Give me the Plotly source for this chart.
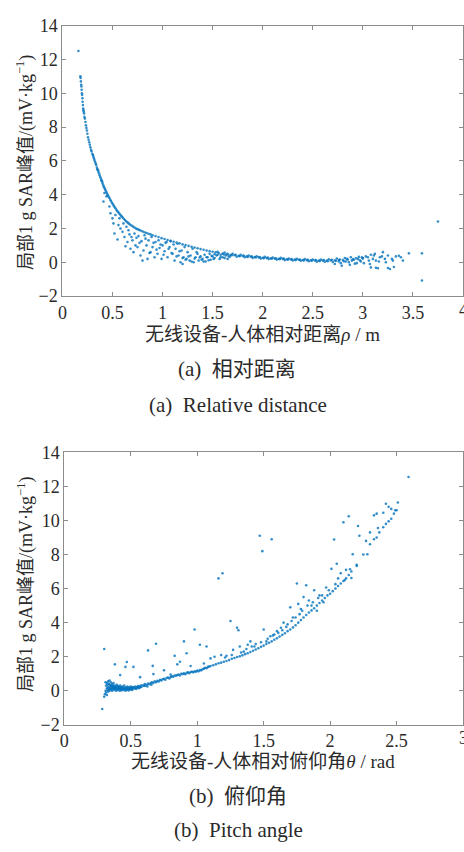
import plotly.graph_objects as go

# ---------------- data: (a) relative distance ----------------
rho_curve = [0.16,0.18,0.182,0.185,0.188,0.19,0.192,0.195,0.197,0.2,0.202,0.205,0.208,0.21,0.213,0.217,0.22,0.225,0.23,0.235,
             0.24,0.245,0.25,0.256,0.262,0.268,0.274,0.28,0.286,0.292,0.3,0.305,0.31,0.315,0.32,0.326,0.332,0.338,0.345,0.35,
             0.355,0.36,0.366,0.372,0.378,0.385,0.39,0.395,0.4,0.406,0.412,0.418,0.425,0.432,0.44,0.447,0.455,0.462,0.47,0.478,
             0.486,0.495,0.503,0.512,0.52,0.53,0.54,0.55,0.56,0.57,0.58,0.59,0.6,0.612,0.625,0.637,0.65,0.662,0.675,0.69,
             0.705,0.72,0.735,0.75,0.765,0.78,0.8,0.82,0.84,0.86,0.88,0.9,0.93,0.96,0.99,1.02,1.05,1.08,1.11,1.14,
             1.17,1.2,1.23,1.26,1.29,1.32,1.35,1.38,1.41,1.44,1.47,1.5,1.53,1.56,1.6,1.64,1.68,1.72,1.76,1.8,
             1.84,1.88,1.92,1.96,2.0,2.04,2.08,2.12,2.16,2.2,2.24,2.28,2.32,2.36,2.4,2.44,2.48,2.52,2.56,2.6,
             2.64,2.68,2.72,2.76,2.8,2.85,2.9,2.95,3.0]
sar_curve_a = [12.5,11.0,10.9,10.7,10.5,10.4,10.2,10.0,9.9,9.7,9.5,9.3,9.1,9.0,8.9,8.8,8.6,8.5,8.3,8.1,
               7.95,7.8,7.6,7.4,7.25,7.1,6.95,6.8,6.65,6.55,6.4,6.35,6.25,6.15,6.05,5.95,5.85,5.75,5.6,5.5,
               5.45,5.35,5.25,5.15,5.05,4.95,4.85,4.8,4.7,4.6,4.5,4.42,4.33,4.25,4.15,4.05,3.97,3.88,3.8,3.7,
               3.62,3.52,3.45,3.36,3.28,3.2,3.1,3.02,2.95,2.87,2.8,2.73,2.66,2.58,2.5,2.43,2.36,2.3,2.24,2.18,
               2.12,2.06,2.0,1.96,1.92,1.88,1.83,1.78,1.73,1.69,1.65,1.6,1.55,1.49,1.43,1.38,1.32,1.27,1.22,1.17,
               1.12,1.06,1.02,0.97,0.92,0.88,0.83,0.78,0.74,0.7,0.66,0.62,0.59,0.55,0.52,0.48,0.45,0.42,0.39,0.37,
               0.35,0.33,0.31,0.29,0.27,0.25,0.24,0.22,0.21,0.2,0.18,0.17,0.16,0.15,0.14,0.13,0.12,0.11,0.1,0.1,
               0.1,0.11,0.12,0.13,0.14,0.16,0.18,0.2,0.23]

rho_band = [1.52,1.55,1.58,1.62,1.66,1.7,1.74,1.78,1.82,1.86,1.9,1.94,1.98,2.02,2.06,2.1,2.14,2.18,2.22,2.26,
            2.3,2.34,2.38,2.42,2.46,2.5,2.54,2.58,2.62,2.66,2.7,2.74,2.78,2.82,2.86,2.88,2.92,2.96,2.98,
            1.61,1.65,1.69,1.73,1.77,1.81,1.85,1.89,1.93,1.97,2.01,2.05,2.09,2.13,2.17,2.21,2.25,2.29,2.33,2.37,
            2.41,2.45,2.49,2.53,2.57,2.61,2.65,2.69,2.73,2.77,2.81,2.84,2.89,2.93,2.97,
            2.72,2.76,2.79,2.83,2.87,2.91,2.94,2.99]
sar_band_a = [0.48,0.62,0.44,0.58,0.38,0.5,0.33,0.44,0.3,0.4,0.26,0.36,0.22,0.32,0.19,0.28,0.16,0.26,0.13,0.22,
              0.11,0.2,0.09,0.19,0.06,0.17,0.04,0.16,0.03,0.18,0.02,0.22,-0.05,0.25,0.0,0.3,-0.08,0.32,0.05,
              0.47,0.5,0.41,0.45,0.36,0.4,0.32,0.35,0.28,0.31,0.24,0.28,0.21,0.24,0.18,0.22,0.15,0.19,0.13,0.17,
              0.11,0.15,0.09,0.13,0.07,0.13,0.06,0.15,0.08,0.17,0.06,0.2,0.1,0.24,0.12,
              -0.1,0.05,-0.2,0.05,-0.15,0.15,-0.05,0.3]

rho_cloud = [0.41,0.42,0.44,0.47,0.48,0.5,0.51,0.52,0.53,0.55,0.56,0.57,0.58,0.6,0.61,0.62,0.63,0.64,0.65,0.66,
             0.67,0.68,0.69,0.7,0.71,0.72,0.73,0.74,0.75,0.76,0.77,0.78,0.79,0.8,0.81,0.82,0.83,0.84,0.85,0.86,
             0.87,0.88,0.89,0.9,0.91,0.92,0.93,0.94,0.95,0.96,0.97,0.98,0.99,1.0,1.01,1.02,1.03,1.04,1.05,1.06,
             1.07,1.08,1.09,1.1,1.11,1.12,1.13,1.14,1.15,1.16,1.17,1.18,1.19,1.2,1.2,1.21,1.22,1.23,1.24,1.25,
             1.26,1.27,1.28,1.29,1.3,1.31,1.32,1.33,1.34,1.35,1.36,1.37,1.38,1.39,1.4,1.41,1.42,1.43,1.44,1.45,
             1.46,1.47,1.48,1.49,1.5,1.51,1.52,1.54,1.55,1.57,1.58,1.6,1.62,1.63,1.65,1.67]
sar_cloud_a = [3.6,4.1,3.9,3.3,2.9,2.6,2.3,1.7,2.8,1.35,2.2,2.6,2.0,1.8,2.3,1.5,0.95,2.1,1.2,1.9,
               1.65,0.8,1.5,1.3,0.6,1.7,1.0,1.45,0.9,1.55,1.15,0.4,1.25,0.1,0.7,1.6,1.4,1.0,0.2,1.3,
               0.55,0.6,1.5,0.9,1.15,0.3,1.2,0.75,0.5,1.3,0.85,1.05,0.2,1.0,0.45,0.65,1.15,1.2,0.3,0.8,
               0.9,1.25,0.55,0.5,1.05,0.1,0.8,0.35,1.1,0.4,0.65,0.0,0.7,-0.1,0.25,0.3,0.9,0.15,0.2,0.6,
               0.35,0.1,0.4,0.05,0.8,0.0,0.22,0.3,0.6,0.5,0.1,0.28,0.35,0.15,0.2,0.05,0.45,0.05,0.3,0.3,
               0.12,0.5,0.15,0.38,0.35,0.2,0.25,0.4,0.45,0.2,0.3,0.3,0.25,0.4,0.2,0.32]

rho_tail = [3.0,3.01,3.03,3.05,3.06,3.07,3.08,3.08,3.1,3.11,3.12,3.13,3.13,3.15,3.16,3.17,3.19,3.2,3.22,3.23,
            3.25,3.25,3.27,3.29,3.3,3.31,3.33,3.36,3.38,3.4,3.46,3.59,3.59,3.75]
sar_tail_a = [0.25,-0.05,0.35,0.3,0.1,-0.1,0.45,-0.3,0.2,0.4,0.5,0.1,-0.32,-0.35,0.05,0.3,0.35,0.6,0.2,0.0,
              0.4,-0.34,-0.4,0.2,0.1,-0.28,0.35,0.39,0.3,0.1,0.53,0.53,-1.08,2.41]

# ---------------- data: (b) pitch angle ----------------
theta_cluster = [0.285,0.30,0.30,0.305,0.31,0.31,0.315,0.315,0.32,0.32,0.32,0.325,0.325,0.33,0.33,0.33,0.335,0.335,0.34,0.34,
                 0.34,0.345,0.345,0.35,0.35,0.35,0.355,0.355,0.36,0.36,0.36,0.365,0.365,0.37,0.37,0.37,0.375,0.375,0.38,0.38,
                 0.385,0.385,0.39,0.39,0.395,0.395,0.4,0.4,0.405,0.405,0.41,0.41,0.415,0.415,0.42,0.42,0.425,0.425,0.43,0.43,
                 0.435,0.44,0.44,0.445,0.45,0.45,0.455,0.46,0.46,0.465,0.47,0.47,0.475,0.48,0.48,0.485,0.49,0.49,0.495,0.5,
                 0.5,0.505,0.51,0.51,0.515,0.52,0.525,0.53,0.535,0.54,0.545,0.55,0.555,0.56,0.565,0.57,0.575,0.58,0.59,0.6]
sar_cluster_b = [-1.07,2.45,-0.35,-0.2,0.0,0.5,-0.1,0.3,0.15,0.45,-0.25,0.05,0.35,0.2,0.55,-0.05,0.1,0.4,0.25,0.0,
                 0.6,0.15,0.35,0.05,0.3,0.5,0.2,0.1,0.25,0.0,0.4,0.15,0.3,0.1,0.2,0.45,0.05,0.25,0.15,0.3,
                 0.1,0.2,0.0,0.25,0.12,0.35,0.2,0.05,0.15,0.28,0.1,0.22,0.0,0.18,0.12,0.3,0.08,0.2,0.15,0.02,
                 0.25,0.1,0.18,0.05,0.15,0.3,0.08,0.2,0.0,0.12,0.18,0.05,0.25,0.1,0.15,0.02,0.2,0.12,0.08,0.15,
                 0.25,0.1,0.18,0.05,0.22,0.12,0.2,0.15,0.25,0.1,0.2,0.18,0.28,0.15,0.25,0.2,0.3,0.22,0.32,0.28]

theta_curve = [0.605,0.61,0.62,0.625,0.63,0.64,0.65,0.655,0.66,0.67,0.68,0.69,0.7,0.71,0.72,0.73,0.74,0.75,0.76,0.77,
               0.78,0.79,0.8,0.81,0.82,0.83,0.84,0.85,0.86,0.87,0.88,0.89,0.9,0.91,0.92,0.93,0.94,0.95,0.96,0.97,
               0.98,0.99,1.0,1.01,1.02,1.03,1.04,1.05,1.06,1.07,1.08,1.09,1.1,1.12,1.14,1.16,1.18,1.2,1.22,1.24,
               1.26,1.28,1.3,1.32,1.34,1.36,1.38,1.4,1.42,1.44,1.46,1.48,1.5,1.52,1.54,1.56,1.58,1.6,1.62,1.64,
               1.66,1.68,1.7,1.72,1.74,1.76,1.78,1.8,1.82,1.84,1.86,1.88,1.9,1.92,1.94,1.96,1.98,2.0,2.02,2.04,
               2.06,2.08,2.1,2.12,2.14,2.16,2.2,2.25,2.3,2.33,2.35,2.37,2.4,2.42,2.44,2.46,2.48,2.5]
sar_curve_b = [0.4,0.3,0.35,0.25,0.42,0.38,0.45,0.35,0.5,0.45,0.55,0.5,0.58,0.55,0.65,0.6,0.68,0.7,0.65,0.75,
               0.78,0.72,0.8,0.85,0.82,0.9,0.88,0.92,0.95,0.9,1.0,0.98,1.02,0.97,1.05,1.08,1.03,1.1,1.12,1.08,
               1.15,1.12,1.18,1.14,1.22,1.2,1.26,1.3,1.35,1.32,1.4,1.42,1.45,1.5,1.55,1.62,1.65,1.7,1.75,1.8,
               1.88,1.92,1.98,2.02,2.08,2.15,2.2,2.28,2.35,2.42,2.5,2.58,2.65,2.75,2.82,2.9,3.0,3.08,3.18,3.28,
               3.38,3.5,3.6,3.72,3.85,4.0,4.15,4.3,4.45,4.6,4.72,4.85,5.0,5.15,5.3,5.45,5.6,5.7,5.85,6.0,
               6.15,6.3,6.45,6.6,6.8,7.0,7.4,8.0,8.6,8.9,9.0,9.3,9.6,9.8,9.95,10.1,10.4,10.6]

theta_scatter = [0.38,0.42,0.46,0.47,0.52,0.57,0.63,0.665,0.67,0.69,0.75,0.8,0.83,0.85,0.87,0.9,0.92,0.95,0.98,1.02,
                 1.05,1.07,1.1,1.13,1.16,1.19,1.18,1.22,1.25,1.27,1.3,1.31,1.32,1.35,1.38,1.4,1.43,1.47,1.49,1.5,
                 1.52,1.55,1.56,1.58,1.6,1.63,1.65,1.68,1.7,1.72,1.75,1.76,1.78,1.8,1.82,1.84,1.86,1.88,1.9,1.92,
                 1.95,1.97,2.01,2.03,2.04,2.05,2.06,2.08,2.1,2.11,2.12,2.14,2.15,2.16,2.17,2.2,2.21,2.22,2.27,2.28,
                 2.3,2.33,2.35,2.36,2.4,2.42,2.44,2.46,2.49,2.51,2.59,
                 1.21,1.26,1.33,1.37,1.41,1.44,1.48,1.53,1.57,1.61,1.64,1.67,1.71,1.74,1.77,1.79,1.83,1.87,1.91,1.94,1.99]
sar_scatter_b = [1.55,0.92,1.4,1.69,1.4,0.8,2.37,1.46,0.98,2.76,1.2,0.95,2.05,1.55,1.7,2.9,2.2,1.45,3.6,2.7,
                 1.6,2.6,1.9,2.0,6.6,6.9,2.1,2.05,4.1,2.4,3.7,3.55,2.6,2.3,2.7,2.9,2.6,9.1,8.2,3.6,
                 2.9,3.2,8.9,3.3,3.5,3.7,4.0,3.9,4.9,4.3,6.3,5.1,4.8,5.5,6.2,5.3,5.0,5.9,4.7,5.6,
                 5.2,6.06,7.16,8.88,6.26,7.46,6.6,6.9,9.9,6.5,7.1,10.25,7.14,6.62,8.02,7.33,9.68,9.1,8.8,8.02,
                 9.3,10.3,10.4,9.56,10.45,10.98,10.8,10.68,10.6,11.06,12.55,
                 1.95,2.1,2.25,2.45,2.6,2.75,2.85,3.05,3.25,3.4,3.55,3.75,4.1,4.3,4.5,4.7,5.0,5.2,5.45,5.6,5.9]

x_ticks_a = [0, 0.5, 1, 1.5, 2, 2.5, 3, 3.5, 4]
x_ticks_b = [0, 0.5, 1, 1.5, 2, 2.5, 3]
y_ticks = [-2, 0, 2, 4, 6, 8, 10, 12, 14]

# ---------------- figure ----------------
W, H = 464, 852
BLUE = "#0072BD"
SERIF = '"Liberation Serif", "Times New Roman", "Noto Sans CJK SC", serif'
TXT = "#2a2a2a"
TICK_SIZE = 18

def px(x):
    return x / W

def py(y):
    return 1 - y / H

rho_all = rho_curve + rho_band + rho_cloud + rho_tail
sar_a_all = sar_curve_a + sar_band_a + sar_cloud_a + sar_tail_a
theta_all = theta_cluster + theta_curve + theta_scatter
sar_b_all = sar_cluster_b + sar_curve_b + sar_scatter_b

marker = dict(color=BLUE, size=2.6, opacity=0.8, line=dict(width=0))

fig = go.Figure()
fig.add_trace(go.Scatter(x=rho_all, y=sar_a_all, mode="markers", marker=marker,
                         xaxis="x", yaxis="y", showlegend=False))
fig.add_trace(go.Scatter(x=theta_all, y=sar_b_all, mode="markers", marker=marker,
                         xaxis="x2", yaxis="y2", showlegend=False))

axis_common = dict(showline=True, linecolor="#8c8c8c", linewidth=1, mirror="ticks",
                   ticks="inside", ticklen=4, tickcolor="#8c8c8c", showgrid=False, zeroline=False,
                   tickfont=dict(family=SERIF, size=TICK_SIZE, color=TXT))

# the last x tick label sits on the page edge; it is drawn below as an annotation
fig.update_layout(
    width=W, height=H, margin=dict(l=0, r=0, t=0, b=0),
    paper_bgcolor="white", plot_bgcolor="white",
    xaxis=dict(domain=[px(58), px(463)], anchor="y", range=[0, 4], tickvals=x_ticks_a,
               ticktext=[f"{v:g}" for v in x_ticks_a[:-1]] + [""], **axis_common),
    yaxis=dict(domain=[py(293), py(16)], anchor="x", range=[-2, 14], tickvals=y_ticks,
               ticktext=[f"{v:g}".replace("-", "\u2212") for v in y_ticks], **axis_common),
    xaxis2=dict(domain=[px(60), px(463)], anchor="y2", range=[0, 3], tickvals=x_ticks_b,
                ticktext=[f"{v:g}" for v in x_ticks_b[:-1]] + [""], **axis_common),
    yaxis2=dict(domain=[py(732), py(453)], anchor="x2", range=[-2, 14], tickvals=y_ticks,
                ticktext=[f"{v:g}".replace("-", "\u2212") for v in y_ticks], **axis_common),
)

fig.add_annotation(text=f"{x_ticks_a[-1]:g}", x=x_ticks_a[-1], xref="x", y=py(307), yref="paper",
                   showarrow=False, xanchor="center", yanchor="middle",
                   font=dict(family=SERIF, size=TICK_SIZE, color=TXT))
fig.add_annotation(text=f"{x_ticks_b[-1]:g}", x=x_ticks_b[-1], xref="x2", y=py(746), yref="paper",
                   showarrow=False, xanchor="center", yanchor="middle",
                   font=dict(family=SERIF, size=TICK_SIZE, color=TXT))

def ann(text, x, y, size, angle=0):
    fig.add_annotation(text=text, x=px(x), y=py(y), xref="paper", yref="paper",
                       showarrow=False, textangle=angle, xanchor="center", yanchor="middle",
                       font=dict(family=SERIF, size=size, color=TXT))

ylab = "局部1 g SAR峰值/(mV·kg<sup>−1</sup>)"
ann(ylab, 21, 156, 18, -90)
ann(ylab, 21, 588, 18, -90)
ann("无线设备-人体相对距离<i>ρ</i> / m", 260, 332, 19)
ann("(a)  相对距离", 235, 368, 21)
ann("(a)  Relative distance", 236, 405, 21)
ann("无线设备-人体相对俯仰角<i>θ</i> / rad", 261, 770, 19)
ann("(b)  俯仰角", 236, 805, 21)
ann("(b)  Pitch angle", 236, 840, 21)

fig.write_html("out.html")
